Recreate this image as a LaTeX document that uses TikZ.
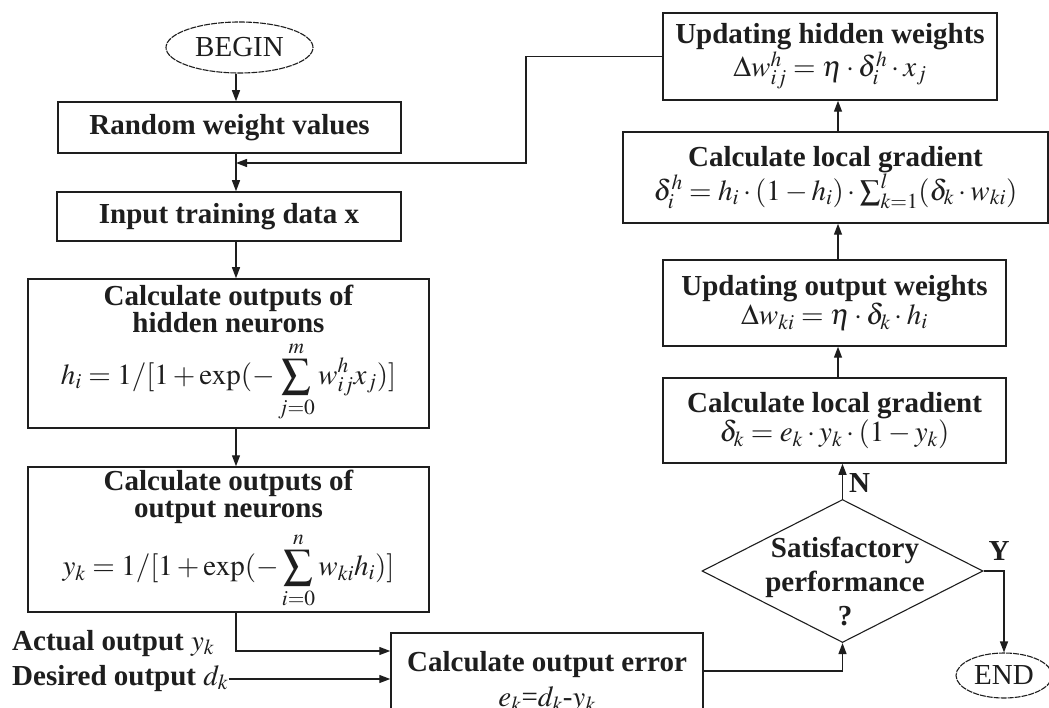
\documentclass[tikz,border=0pt]{standalone}
\usepackage{mathptmx}
\usepackage{fontspec}
\setmainfont{Liberation Serif}
\usetikzlibrary{shapes.geometric,arrows.meta}
\definecolor{ink}{HTML}{1E1E1E}
\newcommand\bigfnt{\fontsize{29}{27}\selectfont}
\begin{document}
\begin{tikzpicture}[x=1pt,y=-1pt,
  box/.style={draw=ink,line width=1.5pt,rectangle,inner sep=0pt,align=center,font=\bigfnt\bfseries,text=ink},
  term/.style={draw=ink,line width=1.1pt,ellipse,inner sep=0pt,dash pattern=on 6pt off 1pt,font=\bigfnt,text=ink},
  arr/.style={draw=ink,line width=1.3pt,-{Triangle[length=11pt,width=8pt]}},
  lbl/.style={inner sep=0pt,font=\bigfnt\bfseries,text=ink},
]
\useasboundingbox (0,0) rectangle (1049,708);
\clip (0,0) rectangle (1049,708);
\fill[white] (0,0) rectangle (1049,708);
\coordinate (lx) at (236,0);
\coordinate (rx) at (838,0);
\coordinate (fb) at (526,163);

% left column
\node[term,minimum width=147pt,minimum height=51pt] (begin) at (239.5,47.5) {BEGIN};
\node[box,minimum width=343pt,minimum height=51pt] (rwv) at (229.5,127.5) {Random weight values};
\node[box,minimum width=344pt,minimum height=49pt] (itd) at (229,216.5) {Input training data x};
\node[box,minimum width=401pt,minimum height=149pt] (coh) at (228.5,353.5)
  {Calculate outputs of\\hidden neurons\\[7pt]$\displaystyle h_i=1/[1+\exp(-\sum_{j=0}^{m} w_{ij}^{h}x_j)]$};
\node[box,minimum width=401pt,minimum height=145pt] (coo) at (228.5,539.5)
  {Calculate outputs of\\output neurons\\[7pt]$\displaystyle y_k=1/[1+\exp(-\sum_{i=0}^{n} w_{ki}h_i)]$};
\node[lbl,anchor=base west] (act) at (12,650) {Actual output $y_k$};
\node[lbl,anchor=base west] (des) at (12,685) {Desired output $d_k$};
\node[box,minimum width=312pt,minimum height=98pt] (err) at (547,682)
  {Calculate output error\\[8pt]{\mdseries $e_k$=$d_k$-$y_k$}};

% right column
\node[box,minimum width=334pt,minimum height=87pt] (uhw) at (830,56.5)
  {Updating hidden weights\\$\Delta w_{ij}^{h}=\eta\cdot\delta_i^{h}\cdot x_j$};
\node[box,minimum width=425pt,minimum height=91pt] (lg1) at (835.5,177.5)
  {Calculate local gradient\\$\delta_i^{h}=h_i\cdot(1-h_i)\cdot\sum\nolimits_{k=1}^{l}(\delta_k\cdot w_{ki})$};
\node[box,minimum width=343pt,minimum height=86pt] (uow) at (834.5,303)
  {Updating output weights\\$\Delta w_{ki}=\eta\cdot\delta_k\cdot h_i$};
\node[box,minimum width=343pt,minimum height=85pt] (lg2) at (834.5,420.5)
  {Calculate local gradient\\$\delta_k=e_k\cdot y_k\cdot(1-y_k)$};
\node[draw=ink,line width=1.1pt,diamond,inner sep=0pt,minimum width=281pt,minimum height=143pt] (dia) at (842.5,571) {};
\node[lbl,align=center,font=\fontsize{29}{34}\selectfont\bfseries] (dtext) at (845,581) {Satisfactory\\performance\\?};
\node[term,minimum width=96pt,minimum height=45pt] (end) at (1004,675.5) {END};

% connectors
\draw[arr] (lx |- begin.south) -- (lx |- rwv.north);
\draw[arr] (lx |- rwv.south) -- (lx |- itd.north);
\draw[arr] (uhw.west) -| (fb) -- (lx |- fb);
\draw[arr] (lx |- itd.south) -- (lx |- coh.north);
\draw[arr] (lx |- coh.south) -- (lx |- coo.north);
\draw[arr] (lx |- coo.south) |- ([yshift=31pt]err.west);
\draw[arr] (des.east |- 0,679) -- (err.west |- 0,679);
\draw[arr] ([yshift=11pt]err.east) -| (dia.south);
\draw[arr] (dia.north) -- (dia.north |- lg2.south) node[lbl,pos=0.45,right=6pt] (nlab) {N};
\draw[arr] (rx |- lg2.north) -- (rx |- uow.south);
\draw[arr] (rx |- uow.north) -- (rx |- lg1.south);
\draw[arr] (rx |- lg1.north) -- (rx |- uhw.south);
\draw[arr] (dia.east) -| (end.north);
\node[lbl,anchor=base] (ylab) at (999,560) {Y};
\end{tikzpicture}
\end{document}
